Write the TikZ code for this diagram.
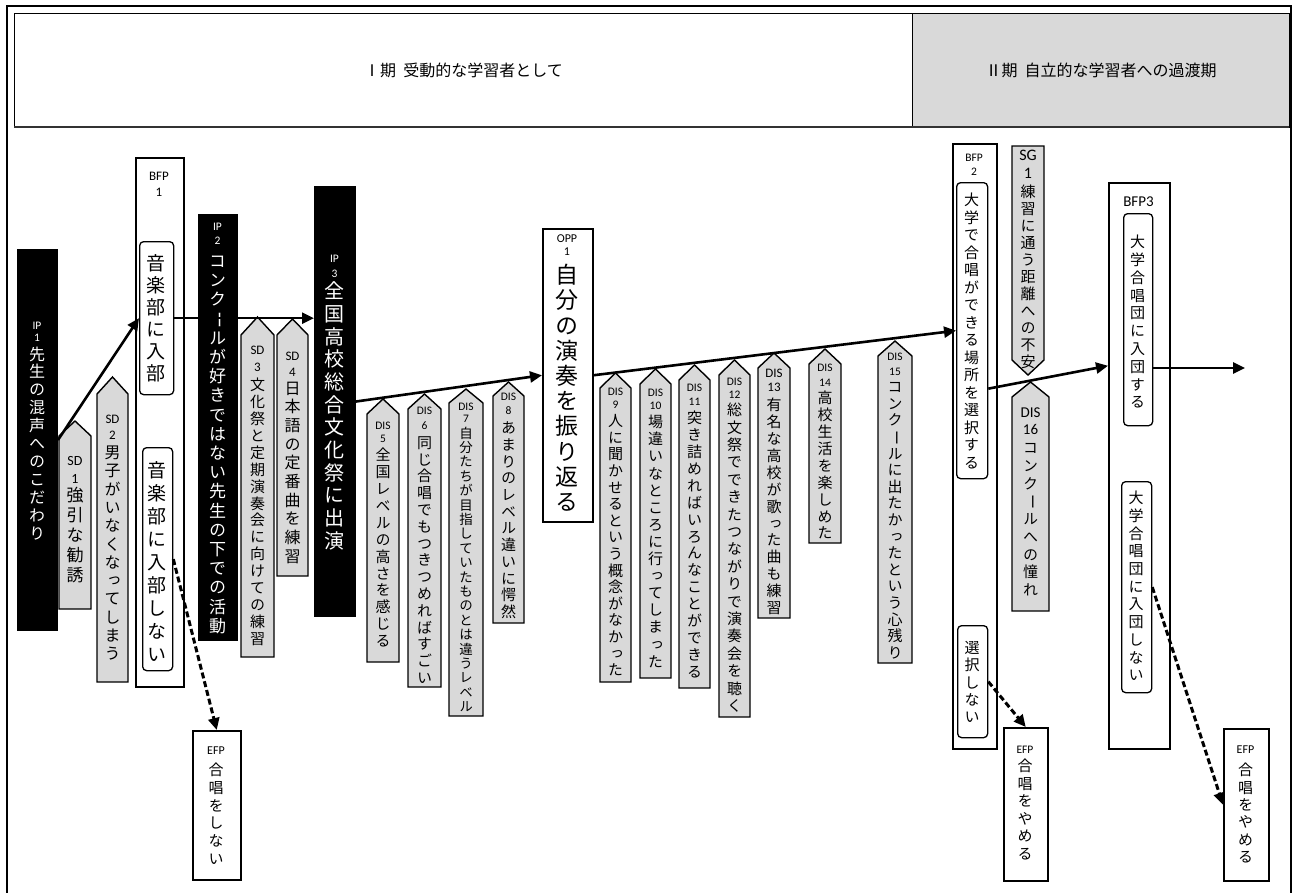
\documentclass[tikz,border=0pt]{standalone}
\usepackage{fontspec}
\usepackage{graphicx}
\setmainfont{Carlito}
\newfontfamily\jpfont[RawFeature=+vert]{Noto Sans CJK JP}
\newfontfamily\jphfont{Noto Sans CJK JP}
\usetikzlibrary{arrows.meta}
\definecolor{boxgray}{HTML}{D9D9D9}

\makeatletter
\def\js@bar{ー}
% one glyph, with the long vowel mark turned upright
\newcommand\jglyph[1]{\ifx#1\js@bar\rotatebox[origin=c]{-90}{\jphfont ー}\else\jpfont#1\fi}
% one character cell of a vertical column
\newcommand\jcell[3]{\hbox to 0pt{\hss\vbox to #2{\vss\hbox{\fontsize{#1}{#1}\selectfont\vrule height .88em depth .12em width 0pt\relax #3}\vss}\hss}}
% a column of characters, one cell each
\newcommand\jstack[3]{\@tfor\js@c:=#3\do{\jcell{#1}{#2}{\jglyph\js@c}}}
\makeatother
% [opts]{name}{x}{centre of first char}{size}{pitch}{text}
\newcommand\vtext[7][]{\node[inner sep=0pt,outer sep=0pt,anchor=north,#1] (#2) at (#3,{#4-#6/2}) {\vbox{\offinterlineskip\jstack{#5pt}{#6pt}{#7}}};}
% [opts]{name}{x}{y}{size}{leading}{text}
\newcommand\codelab[7][]{\node[inner sep=0pt,align=center,font={\fontsize{#5}{#6}\selectfont},#1] (#2) at (#3,#4) {#7};}
% [style]{name}{x1}{y1}{x2}{y2}
\newcommand\boxat[6][]{\node[#1,inner sep=0pt,minimum width={(#5-#3)*1pt},minimum height={(#6-#4)*1pt},anchor=north west] (#2) at (#3,#4) {};}
% x1 x2 tip shoulder bottom
\newcommand\uphouse[5]{\draw[house] (#1,#5) -- (#1,#4) -- ({(#1+#2)/2},#3) -- (#2,#4) -- (#2,#5) -- cycle;}
% x1 x2 top shoulder tip
\newcommand\downhouse[5]{\draw[house] (#1,#3) -- (#1,#4) -- ({(#1+#2)/2},#5) -- (#2,#4) -- (#2,#3) -- cycle;}

\tikzset{
  ipbox/.style={draw=black,fill=black,line width=1pt},
  wbox/.style={draw=black,fill=white,line width=1.5pt},
  rbox/.style={draw=black,fill=white,line width=1.3pt,rounded corners=4pt},
  house/.style={draw=black,fill=boxgray,line width=1.4pt,line join=miter},
  hdr/.style={draw=black,line width=1.2pt},
  arr/.style={line width=2.6pt,-{Triangle[length=12pt,width=11pt]}},
  darr/.style={line width=3pt,dash pattern=on 6pt off 3pt,-{Triangle[length=12pt,width=11pt]}},
  htext/.style={font=\jphfont\fontsize{16}{19}\selectfont}
}

\begin{document}
\begin{tikzpicture}[x=1pt,y=-1pt]
\useasboundingbox (0,0) rectangle (1295,892);
\fill[white] (0,0) rectangle (1295,892);
% outer frame
\draw[line width=1.4pt] (7,6) rectangle (1291,900);

% period header
\boxat[hdr]{hdr1}{14}{13}{912}{127}
\boxat[hdr,fill=boxgray]{hdr2}{912}{13}{1289}{127}
\draw[line width=2pt,black!80] (14,127) -- (1289,127);
\node[htext] (h1t) at (hdr1.center) {Ⅰ期\hspace{.45em}受動的な学習者として};
\node[htext] (h2t) at (hdr2.center) {Ⅱ期\hspace{.45em}自立的な学習者への過渡期};

% IP1
\boxat[ipbox]{ip1}{17}{249}{57}{630}
\codelab[text=white]{ip1c}{37}{332}{11.5}{12}{IP\\1}
\vtext[text=white]{ip1t}{37}{354}{16}{17.9}{先生の混声へのこだわり}

% SD1, SD2
\uphouse{59}{91}{421}{436}{609}
\codelab{sd1c}{75}{470}{14}{18}{SD\\1}
\vtext{sd1t}{75}{495}{17}{20}{強引な勧誘}
\uphouse{97}{128}{377}{394}{682}
\codelab{sd2c}{112.5}{427}{13}{16}{SD\\2}
\vtext{sd2t}{112.5}{452.5}{16}{18.3}{男子がいなくなってしまう}

% BFP1
\boxat[wbox]{bfp1}{135}{157}{183}{686}
\codelab{bfp1c}{159}{184}{13}{16}{BFP\\1}
\boxat[rbox]{b1a}{139}{241}{173}{394}
\vtext{b1at}{156}{263}{19}{22}{音楽部に入部}
\boxat[rbox]{b1b}{142}{447}{172}{670}
\vtext{b1bt}{157}{470}{19}{23}{音楽部に入部しない}

% IP2
\boxat[ipbox]{ip2}{198}{214}{237}{640}
\codelab[text=white]{ip2c}{217.5}{234}{11.5}{14}{IP\\2}
\vtext[text=white]{ip2t}{217.5}{261}{17}{19.2}{コンクールが好きではない先生の下での活動}

% SD3, SD4
\uphouse{241}{274}{317}{335}{657}
\codelab{sd3c}{257.5}{359}{13}{16.5}{SD\\3}
\vtext{sd3t}{257.5}{385}{15}{16.9}{文化祭と定期演奏会に向けての練習}
\uphouse{277}{308}{319}{335}{576}
\codelab{sd4c}{292.5}{364}{13}{16}{SD\\4}
\vtext{sd4t}{292.5}{388}{16}{18.7}{日本語の定番曲を練習}

% IP3
\boxat[ipbox]{ip3}{314}{186}{355}{616}
\codelab[text=white]{ip3c}{334.5}{266.5}{11.5}{15}{IP\\3}
\vtext[text=white]{ip3t}{334.5}{291}{20}{22.7}{全国高校総合文化祭に出演}

% DIS5 - DIS8
\uphouse{367}{399}{399}{414}{662}
\codelab{d5c}{383}{432.5}{11.5}{13}{DIS\\5}
\vtext{d5t}{383}{455}{15}{16.9}{全国レベルの高さを感じる}
\uphouse{408}{441}{394}{409}{687}
\codelab{d6c}{424.5}{418.5}{11.5}{15}{DIS\\6}
\vtext{d6t}{424.5}{442.5}{15}{16.8}{同じ合唱でもつきつめればすごい}
\uphouse{449}{483}{389}{403}{716}
\codelab{d7c}{466}{413}{11.5}{12.5}{DIS\\7}
\vtext{d7t}{466}{433}{13.5}{14.4}{自分たちが目指していたものとは違うレベル}
\uphouse{493}{524}{382}{396}{623}
\codelab{d8c}{508.5}{404}{11.5}{14}{DIS\\8}
\vtext{d8t}{508.5}{428}{15}{16.7}{あまりのレベル違いに愕然}

% OPP1
\boxat[wbox]{opp1}{542}{228}{592}{521}
\codelab{opp1c}{567}{245.5}{12}{13}{OPP\\1}
\vtext{opp1t}{567}{275}{23}{25.2}{自分の演奏を振り返る}

% DIS9 - DIS15
\uphouse{600}{631}{373}{388}{682}
\codelab{d9c}{615.5}{398.5}{11.5}{13}{DIS\\9}
\vtext{d9t}{615.5}{421}{15}{16.6}{人に聞かせるという概念がなかった}
\uphouse{640}{671}{369}{384}{678}
\codelab{d10c}{655.5}{399.5}{11.5}{13}{DIS\\10}
\vtext{d10t}{655.5}{422}{15}{17.1}{場違いなところに行ってしまった}
\uphouse{679}{710}{365}{380}{688}
\codelab{d11c}{694.5}{395}{11.5}{14}{DIS\\11}
\vtext{d11t}{694.5}{418}{15}{16.9}{突き詰めればいろんなことができる}
\uphouse{719}{750}{360}{375}{717}
\codelab{d12c}{734.5}{388.5}{11.5}{13}{DIS\\12}
\vtext{d12t}{734.5}{410}{15}{17.4}{総文祭でできたつながりで演奏会を聴く}
\uphouse{758}{790}{353}{368}{618}
\codelab{d13c}{774}{380}{13}{14}{DIS\\13}
\vtext{d13t}{774}{405}{15}{16.9}{有名な高校が歌った曲も練習}
\uphouse{809}{841}{349}{364}{543}
\codelab{d14c}{825}{375.5}{11.5}{15}{DIS\\14}
\vtext{d14t}{825}{398}{15}{16.9}{高校生活を楽しめた}
\uphouse{878}{912}{341}{356}{663}
\codelab{d15c}{895}{364.5}{11.5}{15}{DIS\\15}
\vtext{d15t}{895}{387}{15}{16.6}{コンクールに出たかったという心残り}

% BFP2
\boxat[wbox]{bfp2}{952}{143}{996}{748}
\codelab{bfp2c}{974}{165}{11.5}{14}{BFP\\2}
\boxat[rbox]{b2a}{956}{182}{987}{478}
\vtext{b2at}{971.5}{200}{15}{17.5}{大学で合唱ができる場所を選択する}
\boxat[rbox]{b2b}{957}{625}{987}{737}
\vtext{b2bt}{972}{648}{15}{17.2}{選択しない}

% SG1, DIS16
\downhouse{1012}{1044}{146}{360}{375}
\codelab{sg1c}{1028}{164}{16}{18}{SG\\1}
\vtext{sg1t}{1028}{192}{15}{17}{練習に通う距離への不安}
\uphouse{1012}{1049}{382}{397}{611}
\codelab{d16c}{1030.5}{421.5}{15}{17}{DIS\\16}
\vtext{d16t}{1030.5}{448}{15}{17.75}{コンクールへの憧れ}

% BFP3
\boxat[wbox]{bfp3}{1108}{182}{1169}{748}
\codelab{bfp3c}{1138.5}{202}{15}{15}{BFP3}
\boxat[rbox]{b3a}{1123}{213}{1152}{425}
\vtext{b3at}{1137.5}{242}{15}{17.8}{大学合唱団に入団する}
\boxat[rbox]{b3b}{1121}{481}{1151}{692}
\vtext{b3bt}{1136}{498}{15}{17.7}{大学合唱団に入団しない}

% EFP boxes
\boxat[wbox]{efp1}{192}{730}{240}{879}
\codelab{efp1c}{216}{751}{12}{12}{EFP}
\vtext{efp1t}{216}{770}{15}{17.7}{合唱をしない}
\boxat[wbox]{efp2}{1003}{727}{1047}{880}
\codelab{efp2c}{1025}{750}{11.5}{12}{EFP}
\vtext{efp2t}{1025}{766}{15}{17.5}{合唱をやめる}
\boxat[wbox]{efp3}{1223}{728}{1268}{880}
\codelab{efp3c}{1245.5}{750}{12}{12}{EFP}
\vtext{efp3t}{1245.5}{770}{15}{17.4}{合唱をやめる}

% trajectory
\draw[arr] (ip1.east) -- (b1a.west);
\draw[arr] (b1a.east) -- (b1a.east -| ip3.west);
\draw[arr] (ip3.east) -- (opp1.west);
\draw[arr] (opp1.east) -- (b2a.west);
\draw[arr] ([yshift=-58pt]b2a.east) -- ([yshift=100pt]bfp3.west);
\coordinate (out) at (1245,368);
\draw[arr] (out -| b3a.east) -- (out);
\draw[darr] (b1b.east) -- (efp1.north);
\draw[darr] (b2b.east) -- (efp2.north);
\draw[darr] (b3b.east) -- (efp3.west);
\end{tikzpicture}
\end{document}
